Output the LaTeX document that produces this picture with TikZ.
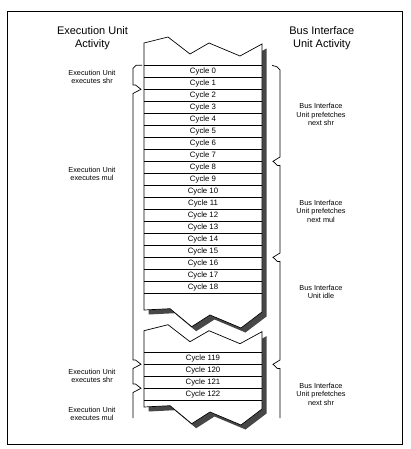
\documentclass[tikz,border=0pt]{standalone}
\usepackage{fontspec}
\setmainfont{Liberation Sans}
\begin{document}
\begin{tikzpicture}[x=1pt,y=-1pt,
  lbl/.style={font=\fontsize{7.3}{8.5}\selectfont, align=center, inner sep=0pt},
  ttl/.style={font=\fontsize{11}{13}\selectfont, align=center, inner sep=0pt},
  cyc/.style={font=\fontsize{7.8}{9}\selectfont, inner sep=0pt},
  colshape/.style={fill=white, draw=black, line width=0.7pt, line join=miter},
  shadowfill/.style={fill=black!72},
  bracepath/.style={draw=black, line width=0.7pt, line join=miter},
  rowline/.style={line width=0.7pt}]
\useasboundingbox (0,0) rectangle (410,449);
\draw[line width=0.8pt] (7,11) rectangle (402,444);

% titles
\node[ttl] (tl) at (92.5,38.5) {Execution Unit\\Activity};
\node[ttl] (tr) at (321.8,38.5) {Bus Interface\\Unit Activity};

% upper column: shadow then shape
\begin{scope}[shift={(4.5,4.5)}]
\fill[shadowfill] (144,43) -- (168,37) -- (190,54) -- (209,43) -- (240,56) -- (262,44) -- (262,312) -- (241,328) -- (210,315) -- (191.7,326.7) -- (170,308.7) -- (144,310) -- cycle;
\fill[shadowfill] (144,330.7) -- (168,324.7) -- (190,341.7) -- (209,330.7) -- (240,343.7) -- (262,331.7) -- (262,409) -- (241,425) -- (210,412) -- (191.7,423.7) -- (170,405.7) -- (144,407) -- cycle;
\end{scope}
\path[colshape] (144,43) -- (168,37) -- (190,54) -- (209,43) -- (240,56) -- (262,44) -- (262,312) -- (241,328) -- (210,315) -- (191.7,326.7) -- (170,308.7) -- (144,310) -- cycle;
\path[colshape] (144,330.7) -- (168,324.7) -- (190,341.7) -- (209,330.7) -- (240,343.7) -- (262,331.7) -- (262,409) -- (241,425) -- (210,412) -- (191.7,423.7) -- (170,405.7) -- (144,407) -- cycle;

% row lines and cycle labels
\foreach \i in {0,...,19} \draw[rowline] (144,{65.3+12*\i}) -- (262,{65.3+12*\i});
\foreach \i in {0,...,18} \node[cyc] (c\i) at (203,{71.3+12*\i}) {Cycle \i};
\foreach \j in {0,...,4} \draw[rowline] (144,{352.3+12*\j}) -- (262,{352.3+12*\j});
\foreach \i/\j in {119/0,120/1,121/2,122/3} \node[cyc] (c\i) at (203,{358.3+12*\j}) {Cycle \i};

% left brace
\draw[bracepath] (142,65.3) -- (136,65.3) -- (133,68.3) -- (133,85) -- (135.5,85) -- (141,89.3) -- (133,93.5)
  -- (133,360) -- (135.5,360) -- (141,364.3) -- (133,368.5)
  -- (133,384) -- (135.5,384) -- (141,388.3) -- (133,392.5) -- (133,418);

% right brace
\draw[bracepath] (272,65.3) -- (277,66.8) -- (280,70)
  -- (280,157) -- (273,161.3) -- (277.5,165.5) -- (280,165.5)
  -- (280,253) -- (273,257.3) -- (277.5,261.5) -- (280,261.5)
  -- (280,360) -- (273,364.3) -- (277.5,368.5) -- (280,368.5) -- (280,418);

% left labels
\node[lbl] (l1) at (92,77) {Execution Unit\\executes shr};
\node[lbl] (l2) at (92,173.7) {Execution Unit\\executes mul};
\node[lbl] (l3) at (92,376) {Execution Unit\\executes shr};
\node[lbl] (l4) at (92,413.7) {Execution Unit\\executes mul};

% right labels
\node[lbl] (r1) at (321,114.5) {Bus Interface\\Unit prefetches\\next shr};
\node[lbl] (r2) at (321,211) {Bus Interface\\Unit prefetches\\next mul};
\node[lbl] (r3) at (321,292) {Bus Interface\\Unit idle};
\node[lbl] (r4) at (321,394) {Bus Interface\\Unit prefetches\\next shr};
\end{tikzpicture}
\end{document}
